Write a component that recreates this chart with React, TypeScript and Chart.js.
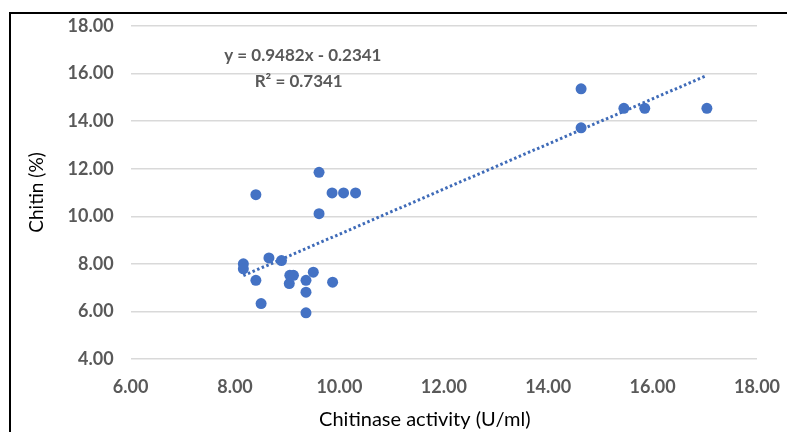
import React, { useEffect, useRef } from "react";
import { Chart, registerables } from "chart.js";

Chart.register(...registerables);

// Chitinase activity (U/ml)
const activity = [
  8.16, 8.16, 8.65, 8.89, 8.40, 9.05, 9.12, 9.04, 9.36, 9.50, 9.87, 9.36, 8.50, 9.36,
  9.61, 8.40, 9.86, 10.08, 10.31, 9.61,
  14.63, 14.63, 15.45, 15.85, 17.04,
];
// Chitin (%)
const chitin = [
  8.00, 7.79, 8.25, 8.14, 7.31, 7.52, 7.52, 7.17, 7.31, 7.65, 7.23, 6.81, 6.33, 5.94,
  11.85, 10.91, 10.98, 10.98, 10.98, 10.11,
  15.36, 13.72, 14.54, 14.54, 14.54,
];

const slope = 0.9482;
const intercept = -0.2341;
const equationLines = ["y = 0.9482x - 0.2341", "R² = 0.7341"];
const equationAnchor = [
  { x: 9.3, y: 16.77 },
  { x: 9.22, y: 15.65 },
];

const xTitle = "Chitinase activity (U/ml)";
const yTitle = "Chitin (%)";

const BLUE = "#4472C4";
const FONT = "Lato, 'Open Sans', sans-serif";

export default function App() {
  const ref = useRef<HTMLCanvasElement | null>(null);

  useEffect(() => {
    if (!ref.current) return;
    const xMin = Math.min(...activity);
    const xMax = Math.max(...activity);
    const trend = [
      { x: xMin, y: slope * xMin + intercept },
      { x: xMax, y: slope * xMax + intercept },
    ];

    const textPlugin = {
      id: "texts",
      afterDatasetsDraw(chart: any) {
        const { ctx, scales, chartArea } = chart;
        ctx.save();
        ctx.fillStyle = "#595959";
        ctx.font = `bold 17px ${FONT}`;
        ctx.textAlign = "center";
        ctx.textBaseline = "middle";
        equationLines.forEach((t, i) => {
          const a = equationAnchor[i];
          ctx.fillText(t, scales.x.getPixelForValue(a.x), scales.y.getPixelForValue(a.y));
        });
        // x-axis title (Excel places it slightly left of the plot centre)
        ctx.fillStyle = "#000000";
        ctx.font = `20px ${FONT}`;
        ctx.fillText(xTitle, (chartArea.left + chartArea.right) / 2 - 19, chart.height - 12);
        ctx.restore();
      },
    };

    const chart = new Chart(ref.current, {
      type: "scatter",
      data: {
        datasets: [
          {
            label: "data",
            data: activity.map((x, i) => ({ x, y: chitin[i] })),
            backgroundColor: BLUE,
            borderColor: BLUE,
            borderWidth: 0,
            pointRadius: 5.5,
            order: 1,
          },
          {
            label: "trend",
            type: "line",
            data: trend,
            borderColor: "#3f6bb8",
            borderWidth: 3,
            borderDash: [2.5, 2.5],
            pointRadius: 0,
            fill: false,
            order: 2,
          } as any,
        ],
      },
      options: {
        responsive: false,
        animation: false,
        devicePixelRatio: 1,
        layout: { padding: { top: 26, right: 30, left: 0, bottom: 0 } },
        plugins: {
          legend: { display: false },
          tooltip: { enabled: false },
        },
        scales: {
          x: {
            type: "linear",
            min: 6,
            max: 18,
            grid: { display: false, drawTicks: false },
            border: { display: false },
            ticks: {
              stepSize: 2,
              padding: 17,
              color: "#595959",
              font: { family: FONT, size: 18, weight: "bold" },
              callback: (v: any) => Number(v).toFixed(2),
            },
            title: { display: false, text: xTitle },
            afterFit: (s: any) => {
              s.height = 73;
              s.paddingLeft = 0;
              s.paddingRight = 0;
            },
          },
          y: {
            type: "linear",
            min: 4,
            max: 18,
            grid: { color: "#d9d9d9", lineWidth: 1.5, drawTicks: false },
            border: { display: false },
            ticks: {
              stepSize: 2,
              padding: 17,
              color: "#595959",
              font: { family: FONT, size: 18, weight: "bold" },
              callback: (v: any) => Number(v).toFixed(2),
            },
            title: {
              display: true,
              text: yTitle,
              color: "#000000",
              font: { family: FONT, size: 19 },
              padding: { top: 25, bottom: 0 },
            },
            afterFit: (s: any) => {
              s.width = 130.6;
              s.paddingTop = 0;
              s.paddingBottom = 0;
            },
          },
        },
      },
      plugins: [textPlugin],
    });
    return () => chart.destroy();
  }, []);

  return (
    <div style={{ position: "absolute", left: 0, top: 0, width: 787, height: 432, background: "#fff", overflow: "hidden" }}>
      <canvas ref={ref} width={787} height={432} style={{ position: "absolute", left: 0, top: 0 }} />
      <div
        style={{
          position: "absolute",
          left: 9,
          top: 12,
          width: 800,
          height: 440,
          borderLeft: "2px solid #000",
          borderTop: "2px solid #000",
          pointerEvents: "none",
        }}
      />
    </div>
  );
}
